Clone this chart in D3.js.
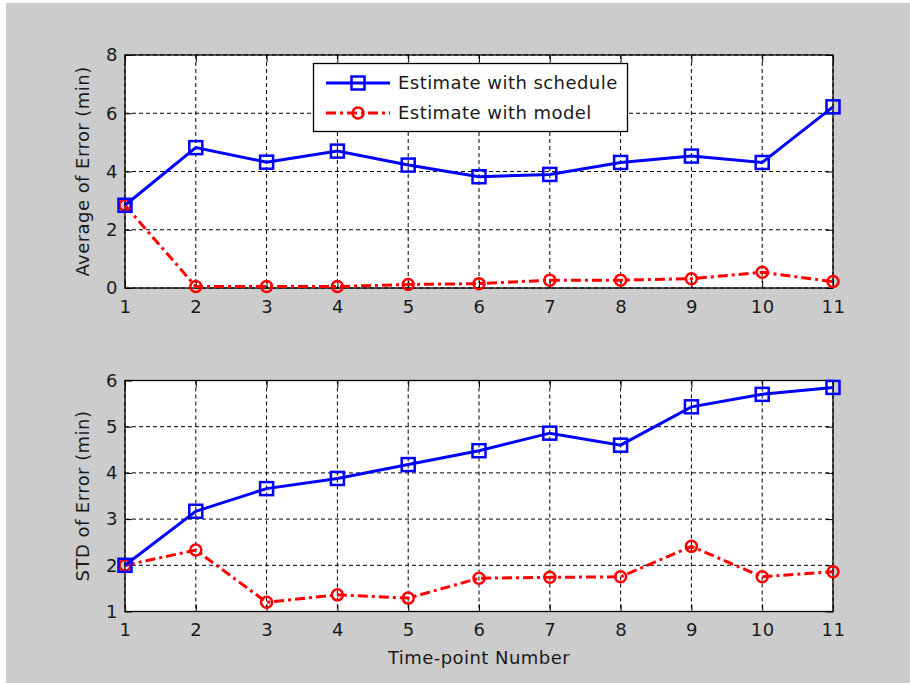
<!DOCTYPE html>
<html lang="en">
<head>
  <meta charset="UTF-8">
  <title>Estimate error</title>
  <script src="https://d3js.org/d3.v7.min.js"></script>
  <style>
    html, body { margin: 0; padding: 0; background: #fff; }
    text { font-family: "DejaVu Sans", sans-serif; font-size: 18px; letter-spacing: 0.45px; fill: #1a1a1a; }
  </style>
</head>
<body>
  <script>
    "use strict";
    // data
    var timePoints = [1, 2, 3, 4, 5, 6, 7, 8, 9, 10, 11];
    var avgSchedule = [2.84, 4.82, 4.32, 4.70, 4.22, 3.82, 3.90, 4.31, 4.53, 4.31, 6.22];
    var avgModel = [2.84, 0.05, 0.05, 0.05, 0.12, 0.15, 0.27, 0.27, 0.32, 0.54, 0.22];
    var stdSchedule = [2.00, 3.17, 3.66, 3.88, 4.18, 4.48, 4.86, 4.60, 5.43, 5.70, 5.85];
    var stdModel = [2.00, 2.33, 1.20, 1.36, 1.29, 1.72, 1.74, 1.75, 2.41, 1.75, 1.86];
    var avgTicks = [0, 2, 4, 6, 8];
    var stdTicks = [1, 2, 3, 4, 5, 6];
    var seriesNames = ["Estimate with schedule", "Estimate with model"];

    var W = 910, H = 683;
    var svg = d3.select("body").append("svg")
      .attr("width", W)
      .attr("height", H);

    // grey figure background
    svg.append("rect")
      .attr("x", 6).attr("y", 3)
      .attr("width", W - 6).attr("height", H - 3)
      .attr("fill", "#cccccc");

    var x = d3.scaleLinear().domain([1, 11]).range([125, 833]);
    var blue = "#0000ff", red = "#ff0000";
    var redDash = "10,4,3,4";

    function square(g, cx, cy) {
      g.append("rect")
        .attr("x", cx - 6.5).attr("y", cy - 6.5)
        .attr("width", 13).attr("height", 13)
        .attr("fill", "none")
        .attr("stroke", blue)
        .attr("stroke-width", 2.5);
    }
    function circle(g, cx, cy) {
      g.append("circle")
        .attr("cx", cx).attr("cy", cy)
        .attr("r", 5.5)
        .attr("fill", "none")
        .attr("stroke", red)
        .attr("stroke-width", 2.5);
    }

    function panel(y, yTicks, sched, model, title) {
      var yTop = y.range()[1], yBottom = y.range()[0];
      var left = x.range()[0], right = x.range()[1];
      var g = svg.append("g");

      g.append("rect")
        .attr("x", left).attr("y", yTop)
        .attr("width", right - left).attr("height", yBottom - yTop)
        .attr("fill", "#fff");

      // dashed grid
      g.selectAll(".gx").data(timePoints).enter().append("line")
        .attr("x1", function (d) { return x(d); })
        .attr("x2", function (d) { return x(d); })
        .attr("y1", yTop).attr("y2", yBottom)
        .attr("stroke", "#000").attr("stroke-width", 1)
        .attr("stroke-dasharray", "4,3");
      g.selectAll(".gy").data(yTicks).enter().append("line")
        .attr("y1", function (d) { return y(d); })
        .attr("y2", function (d) { return y(d); })
        .attr("x1", left).attr("x2", right)
        .attr("stroke", "#000").attr("stroke-width", 1)
        .attr("stroke-dasharray", "4,3");

      // axes with inward ticks
      var ax = g.append("g").attr("transform", "translate(0," + yBottom + ")")
        .call(d3.axisBottom(x).tickValues(timePoints).tickFormat(d3.format("d"))
          .tickSizeInner(-7).tickSizeOuter(0).tickPadding(12));
      var axTop = g.append("g").attr("transform", "translate(0," + yTop + ")")
        .call(d3.axisTop(x).tickValues(timePoints).tickFormat("")
          .tickSizeInner(-7).tickSizeOuter(0));
      var ay = g.append("g").attr("transform", "translate(" + left + ",0)")
        .call(d3.axisLeft(y).tickValues(yTicks).tickFormat(d3.format("d"))
          .tickSizeInner(-7).tickSizeOuter(0).tickPadding(7));
      var ayR = g.append("g").attr("transform", "translate(" + right + ",0)")
        .call(d3.axisRight(y).tickValues(yTicks).tickFormat("")
          .tickSizeInner(-7).tickSizeOuter(0));
      [ax, axTop, ay, ayR].forEach(function (a) {
        a.select(".domain").remove();
        a.selectAll("line").attr("stroke", "#000");
        a.selectAll("text").attr("font-family", null).attr("font-size", null)
          .attr("fill", "#1a1a1a");
      });

      g.append("rect")
        .attr("x", left).attr("y", yTop)
        .attr("width", right - left).attr("height", yBottom - yTop)
        .attr("fill", "none")
        .attr("stroke", "#000").attr("stroke-width", 1.3);

      g.append("text")
        .attr("transform", "translate(89," + ((yTop + yBottom) / 2) + ") rotate(-90)")
        .attr("text-anchor", "middle")
        .text(title);

      var line = d3.line()
        .x(function (d, i) { return x(timePoints[i]); })
        .y(function (d) { return y(d); });

      g.append("path").datum(model)
        .attr("fill", "none").attr("stroke", red)
        .attr("stroke-width", 3).attr("stroke-dasharray", redDash)
        .attr("d", line);
      model.forEach(function (d, i) { circle(g, x(timePoints[i]), y(d)); });

      g.append("path").datum(sched)
        .attr("fill", "none").attr("stroke", blue)
        .attr("stroke-width", 3)
        .attr("d", line);
      sched.forEach(function (d, i) { square(g, x(timePoints[i]), y(d)); });

      return g;
    }

    var yAvg = d3.scaleLinear().domain([0, 8]).range([288, 55]);
    var yStd = d3.scaleLinear().domain([1, 6]).range([611.5, 380.5]);

    var avgPanel = panel(yAvg, avgTicks, avgSchedule, avgModel, "Average of Error (min)");
    panel(yStd, stdTicks, stdSchedule, stdModel, "STD of Error (min)");

    svg.append("text")
      .attr("x", (x.range()[0] + x.range()[1]) / 2)
      .attr("y", 664)
      .attr("text-anchor", "middle")
      .text("Time-point Number");

    // legend
    var lg = avgPanel.append("g");
    lg.append("rect")
      .attr("x", 313.5).attr("y", 63.5)
      .attr("width", 314).attr("height", 68)
      .attr("fill", "#fff").attr("stroke", "#000").attr("stroke-width", 1.3);
    var rows = [83, 113];
    lg.append("line")
      .attr("x1", 326).attr("x2", 390).attr("y1", rows[0]).attr("y2", rows[0])
      .attr("stroke", blue).attr("stroke-width", 3);
    square(lg, 358, rows[0]);
    lg.append("line")
      .attr("x1", 326).attr("x2", 390).attr("y1", rows[1]).attr("y2", rows[1])
      .attr("stroke", red).attr("stroke-width", 3).attr("stroke-dasharray", redDash);
    circle(lg, 358, rows[1]);
    seriesNames.forEach(function (name, i) {
      lg.append("text")
        .attr("x", 398).attr("y", rows[i] + 6)
        .text(name);
    });
  </script>
</body>
</html>
